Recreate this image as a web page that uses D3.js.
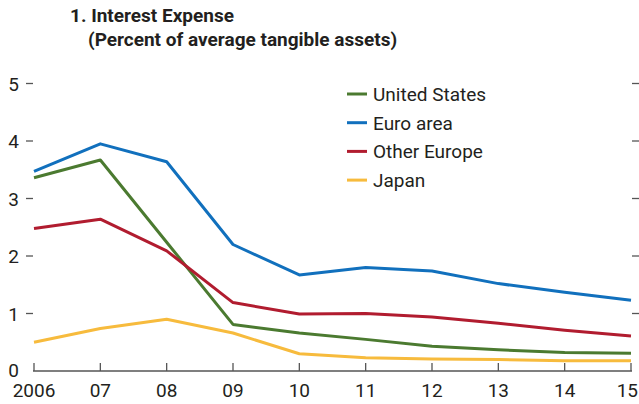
<!DOCTYPE html>
<html>
<head>
<meta charset="utf-8">
<script src="https://cdn.jsdelivr.net/npm/d3@7"></script>
<style>
  html, body { margin: 0; padding: 0; background: #fff; }
  svg { display: block; font-family: "Liberation Sans Narrow", "Arial Narrow", "Roboto", sans-serif; }
</style>
</head>
<body>
<div id="chart"></div>
<script>
// ---- data ----
const years = [2006, 2007, 2008, 2009, 2010, 2011, 2012, 2013, 2014, 2015];
const yearLabels = ['2006', '07', '08', '09', '10', '11', '12', '13', '14', '15'];
const yTicks = [0, 1, 2, 3, 4, 5];

const unitedStates = [3.36, 3.67, 2.24, 0.81, 0.66, 0.55, 0.43, 0.37, 0.32, 0.31];
const euroArea     = [3.47, 3.95, 3.64, 2.20, 1.67, 1.80, 1.74, 1.52, 1.37, 1.23];
const otherEurope  = [2.48, 2.64, 2.09, 1.19, 0.99, 1.00, 0.94, 0.83, 0.71, 0.61];
const japan        = [0.50, 0.74, 0.90, 0.66, 0.30, 0.23, 0.21, 0.20, 0.18, 0.18];

const series = [
  { name: 'United States', values: unitedStates, color: '#4b7a30' },
  { name: 'Euro area',     values: euroArea,     color: '#1170bd' },
  { name: 'Other Europe',  values: otherEurope,  color: '#b11c2f' },
  { name: 'Japan',         values: japan,        color: '#f7bb3d' },
];

const W = 639, H = 404;
const svg = d3.select('#chart').append('svg').attr('width', W).attr('height', H);

const x = d3.scaleLinear().domain([2006, 2015]).range([34, 631]);
const y = d3.scaleLinear().domain([0, 5]).range([371, 83.5]);

const ink = '#231f20';

// title
svg.append('text').attr('x', 70).attr('y', 22)
  .attr('font-size', 19).attr('font-weight', 'bold').attr('fill', ink)
  .text('1. Interest Expense');
svg.append('text').attr('x', 88).attr('y', 46)
  .attr('font-size', 19).attr('font-weight', 'bold').attr('fill', ink)
  .text('(Percent of average tangible assets)');

// left y ticks + labels
const yl = svg.append('g');
yl.selectAll('line').data(yTicks.filter(d => d > 0)).join('line')
  .attr('x1', 26).attr('x2', 33)
  .attr('y1', d => y(d)).attr('y2', d => y(d))
  .attr('stroke', '#555').attr('stroke-width', 1.3);
yl.selectAll('text').data(yTicks).join('text')
  .attr('x', 19).attr('y', d => y(d) + (d === 0 ? 6 : 7))
  .attr('text-anchor', 'end').attr('font-size', 19).attr('fill', ink)
  .text(d => d);

// right y ticks
svg.append('g').selectAll('line').data(yTicks.filter(d => d > 0)).join('line')
  .attr('x1', 632).attr('x2', 639)
  .attr('y1', d => y(d)).attr('y2', d => y(d))
  .attr('stroke', '#555').attr('stroke-width', 1.3);

// x axis
const xa = svg.append('g');
xa.append('line').attr('x1', 33).attr('x2', 632)
  .attr('y1', y(0)).attr('y2', y(0))
  .attr('stroke', '#555').attr('stroke-width', 1.5);
xa.selectAll('line.tick').data(years).join('line').attr('class', 'tick')
  .attr('x1', d => x(d)).attr('x2', d => x(d))
  .attr('y1', y(0)).attr('y2', y(0) - 8)
  .attr('stroke', '#555').attr('stroke-width', 1.3);
xa.selectAll('text').data(years).join('text')
  .attr('x', (d, i) => i === years.length - 1 ? W - 1 : x(d)).attr('y', 397)
  .attr('text-anchor', (d, i) => i === years.length - 1 ? 'end' : 'middle')
  .attr('font-size', 19).attr('fill', ink)
  .text((d, i) => yearLabels[i]);

// lines
const line = d3.line().x((d, i) => x(years[i])).y(d => y(d));
svg.append('g').selectAll('path').data(series).join('path')
  .attr('fill', 'none').attr('stroke', d => d.color)
  .attr('stroke-width', 3).attr('stroke-linejoin', 'round')
  .attr('d', d => line(d.values));

// legend
const leg = svg.append('g').attr('transform', 'translate(347,94)');
series.forEach((s, i) => {
  const gi = leg.append('g').attr('transform', `translate(0,${i * 28.7})`);
  gi.append('line').attr('x1', 0).attr('x2', 20).attr('y1', 0).attr('y2', 0)
    .attr('stroke', s.color).attr('stroke-width', 3);
  gi.append('text').attr('x', 26).attr('y', 7)
    .attr('font-size', 19).attr('fill', ink).text(s.name);
});
</script>
</body>
</html>
